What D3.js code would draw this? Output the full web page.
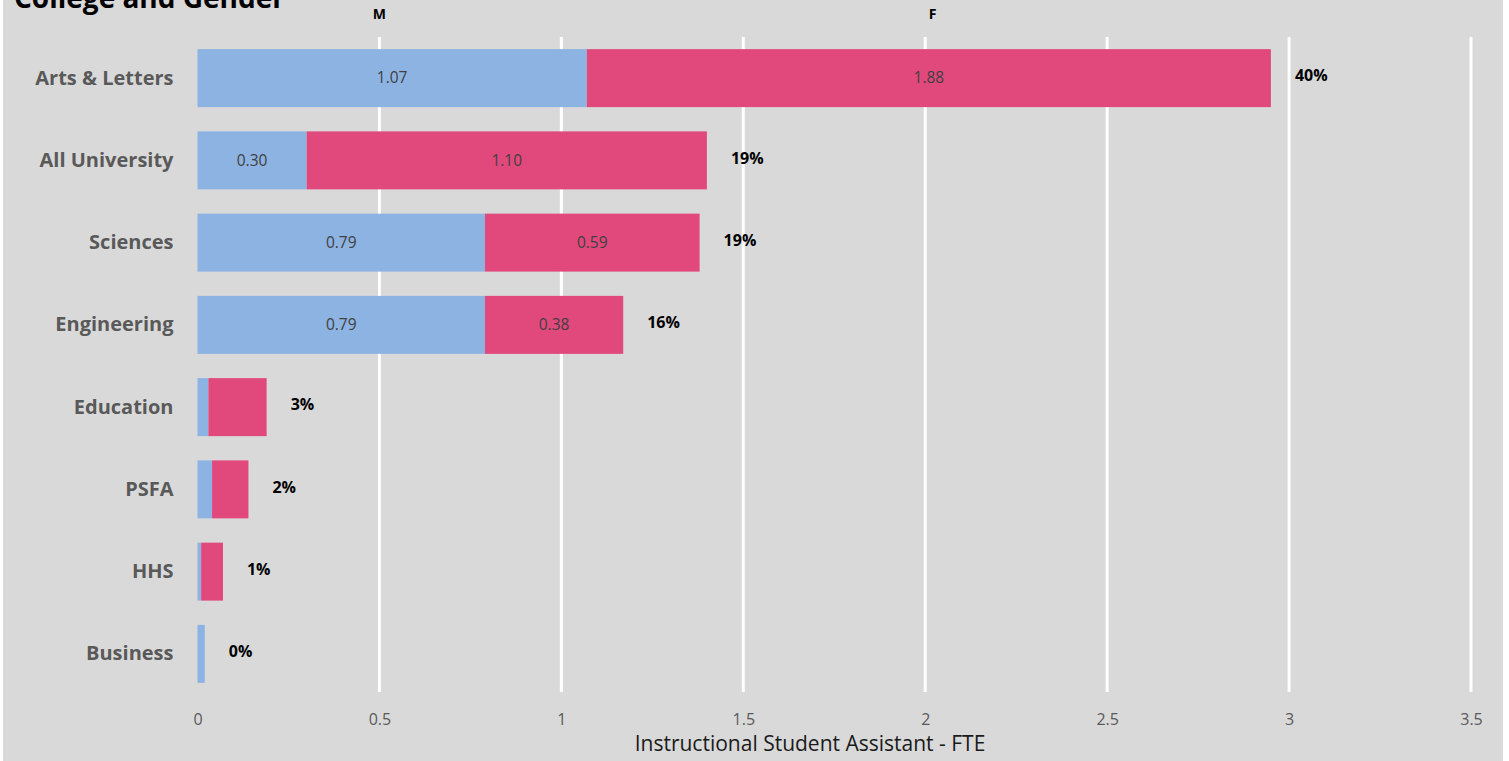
<!DOCTYPE html>
<html>
<head>
<meta charset="utf-8">
<script src="https://cdn.jsdelivr.net/npm/d3@7"></script>
<style>
  html, body { margin: 0; padding: 0; background: #ffffff; }
  svg { display: block; }
  text { font-family: "Open Sans", "Noto Sans", sans-serif; }
</style>
</head>
<body>
<script>
const categories = ["Arts & Letters", "All University", "Sciences", "Engineering", "Education", "PSFA", "HHS", "Business"];
const maleValues   = [1.07, 0.30, 0.79, 0.79, 0.03, 0.04, 0.01, 0.02];
const femaleValues = [1.88, 1.10, 0.59, 0.38, 0.16, 0.10, 0.06, 0.00];
const maleLabels   = ["1.07", "0.30", "0.79", "0.79", "", "", "", ""];
const femaleLabels = ["1.88", "1.10", "0.59", "0.38", "", "", "", ""];
const pctLabels    = ["40%", "19%", "19%", "16%", "3%", "2%", "1%", "0%"];
const xTicks = [0, 0.5, 1, 1.5, 2, 2.5, 3, 3.5];
const seriesNames = ["M", "F"];

const W = 1509, H = 761;
const svg = d3.select("body").append("svg").attr("width", W).attr("height", H);

// background panel
svg.append("rect").attr("x", 3).attr("y", 0).attr("width", 1500).attr("height", H).attr("fill", "#d9d9d9");

const x = d3.scaleLinear().domain([0, 3.5]).range([197.5, 1471]);
const y = d3.scaleBand().domain(categories).range([37, 695]).paddingInner(0.295).paddingOuter(0.1475);

// gridlines
svg.append("g").selectAll("line").data(xTicks.filter(d => d > 0)).join("line")
  .attr("x1", d => x(d)).attr("x2", d => x(d))
  .attr("y1", 37).attr("y2", 692)
  .attr("stroke", "#ffffff").attr("stroke-width", 3);

// x axis tick labels
const xAxis = d3.axisBottom(x).tickValues(xTicks).tickSize(0).tickPadding(0).tickFormat(d3.format("~g"));
const gx = svg.append("g").attr("transform", "translate(0,714)").call(xAxis);
gx.select(".domain").remove();
gx.selectAll("text").attr("fill", "#595959").style("font-size", "16px").style("font-family", "'Open Sans', sans-serif");

// y axis labels
const yAxis = d3.axisLeft(y).tickSize(0).tickPadding(24);
const gy = svg.append("g").attr("transform", "translate(197.5,0)").call(yAxis);
gy.select(".domain").remove();
gy.selectAll("text").attr("fill", "#595959").style("font-size", "20px").style("font-weight", "bold").style("font-family", "'Open Sans', sans-serif");

// bars
const rows = categories.map((c, i) => ({ c, m: maleValues[i], f: femaleValues[i], ml: maleLabels[i], fl: femaleLabels[i], p: pctLabels[i] }));
const bh = y.bandwidth();

svg.append("g").selectAll("rect").data(rows).join("rect")
  .attr("x", x(0)).attr("y", d => y(d.c))
  .attr("width", d => x(d.m) - x(0)).attr("height", bh)
  .attr("fill", "#8db3e2");

svg.append("g").selectAll("rect").data(rows.filter(d => d.f > 0)).join("rect")
  .attr("x", d => x(d.m)).attr("y", d => y(d.c))
  .attr("width", d => x(d.m + d.f) - x(d.m)).attr("height", bh)
  .attr("fill", "#e1497c");

// value labels
svg.append("g").selectAll("text").data(rows.filter(d => d.ml)).join("text")
  .attr("x", d => (x(0) + x(d.m)) / 2).attr("y", d => y(d.c) + bh / 2 + 1)
  .attr("text-anchor", "middle").attr("dominant-baseline", "middle")
  .attr("fill", "#404040").style("font-size", "15.5px").text(d => d.ml);

svg.append("g").selectAll("text").data(rows.filter(d => d.fl)).join("text")
  .attr("x", d => (x(d.m) + x(d.m + d.f)) / 2).attr("y", d => y(d.c) + bh / 2 + 1)
  .attr("text-anchor", "middle").attr("dominant-baseline", "middle")
  .attr("fill", "#404040").style("font-size", "15.5px").text(d => d.fl);

// percent labels
svg.append("g").selectAll("text").data(rows).join("text")
  .attr("x", d => x(d.m + d.f) + 24).attr("y", d => y(d.c) + bh / 2 - 1)
  .attr("dominant-baseline", "middle")
  .attr("fill", "#000000").style("font-size", "16px").style("font-weight", "bold").text(d => d.p);

// legend labels (M, F)
const legendX = [x(0.5), x(2.02)];
svg.append("g").selectAll("text").data(seriesNames).join("text")
  .attr("x", (d, i) => legendX[i]).attr("y", 15)
  .attr("text-anchor", "middle").attr("dominant-baseline", "middle")
  .attr("fill", "#000000").style("font-size", "14px").style("font-weight", "bold").text(d => d);

// axis title
svg.append("text").attr("x", 810).attr("y", 745)
  .attr("text-anchor", "middle").attr("dominant-baseline", "middle")
  .attr("fill", "#1a1a1a").style("font-size", "21px").text("Instructional Student Assistant - FTE");

// chart title (cut off at top, as in the original)
svg.append("text").attr("x", 14).attr("y", 8)
  .attr("fill", "#000000").style("font-size", "28px").style("font-weight", "bold").text("College and Gender");
</script>
</body>
</html>
